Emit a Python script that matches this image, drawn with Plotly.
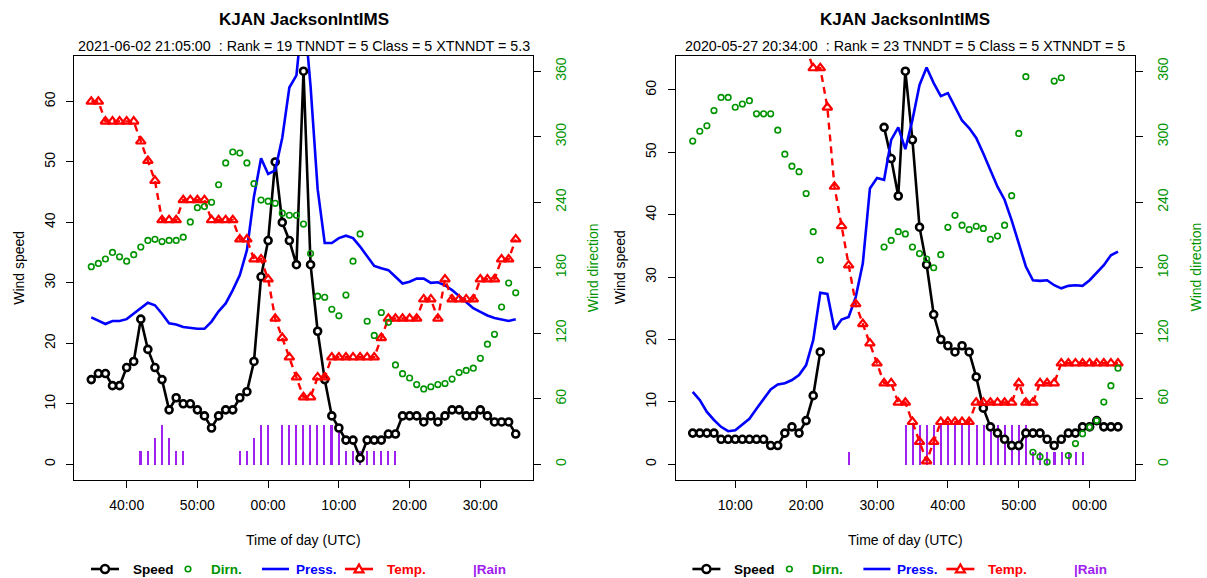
import pandas as pd
import plotly.graph_objects as go

W, H = 1207, 578
FONT = "Liberation Sans, Arial, Helvetica, sans-serif"
GREEN = "#009400"
PURPLE = "#A020F0"

# ---------------- data: left panel ----------------
L_title = "KJAN JacksonIntIMS"
L_sub = "2021-06-02 21:05:00\u00a0 : Rank = 19 TNNDT = 5 Class = 5 XTNNDT = 5.3"
L_start = "2021-06-02 20:35:00"
L_speed = [14, 15, 15, 13, 13, 16, 17, 24, 19, 16, 14, 9, 11, 10, 10, 9, 8, 6, 8, 9,
           9, 11, 12, 17, 31, 37, 50, 40, 37, 33, 65, 33, 22, 14, 8, 6, 4, 4, 1, 4,
           4, 4, 5, 5, 8, 8, 8, 7, 8, 7, 8, 9, 9, 8, 8, 9, 8, 7, 7, 7, 5]
L_dirn = [181, 184, 188, 194, 190, 186, 192, 199, 205, 206, 204, 205, 205, 208, 222, 235, 236, 240, 256, 276,
          286, 285, 276, 257, 242, 241, 239, 230, 228, 228, 220, 193, 154, 153, 142, 136, 155, 186, 211, 131,
          118, 139, 130, 91, 83, 79, 73, 69, 71, 73, 74, 78, 84, 86, 88, 97, 110, 119, 144, 166, 157]
L_press = [24.3, 23.7, 23.2, 23.7, 23.7, 24.0, 24.9, 25.9, 26.7, 26.3, 24.9, 23.3, 23.1, 22.7, 22.5, 22.4, 22.4, 23.6, 25.3, 26.6,
           28.8, 31.3, 35.4, 44.3, 50.6, 48.0, 48.6, 54.0, 62.3, 64.3, 76.0, 62.5, 45.5, 36.6, 36.6, 37.4, 37.8, 37.4, 36.0, 34.4,
           32.8, 32.4, 32.1, 31.0, 29.9, 30.2, 30.7, 30.7, 30.0, 30.1, 29.6, 28.8, 27.8, 26.7, 25.8, 25.2, 24.6, 24.2, 24.0, 23.7, 24.0]
L_temp = [60.0, 60.0, 56.7, 56.7, 56.7, 56.7, 56.7, 53.4, 50.2, 46.9, 40.4, 40.4, 40.4, 43.7, 43.7, 43.7, 43.7, 40.4, 40.4, 40.4,
          40.4, 37.2, 37.2, 33.9, 33.9, 30.6, 24.1, 20.9, 17.7, 14.4, 11.1, 11.1, 14.4, 14.4, 17.7, 17.7, 17.7, 17.7, 17.7, 17.7,
          17.7, 20.9, 24.1, 24.1, 24.1, 24.1, 24.1, 27.3, 27.3, 24.1, 30.6, 27.3, 27.3, 27.3, 27.3, 30.6, 30.6, 30.6, 33.9, 33.9, 37.2]
L_rain = [0, 0, 0, 0, 0, 0, 0, 2.2, 2.2, 4.4, 6.6, 4.4, 2.2, 2.2, 0, 0, 0, 0, 0, 0,
          0, 2.2, 2.2, 4.4, 6.6, 6.6, 0, 6.6, 6.6, 6.6, 6.6, 6.6, 6.6, 6.6, 6.6, 6.6, 2.2, 2.2, 2.2, 2.2,
          2.2, 2.2, 2.2, 2.2, 0, 0, 0, 0, 0, 0, 0, 0, 0, 0, 0, 0, 0, 0, 0, 0, 0]
L_ymax = 65

# ---------------- data: right panel ----------------
R_title = "KJAN JacksonIntIMS"
R_sub = "2020-05-27 20:34:00\u00a0 : Rank = 23 TNNDT = 5 Class = 5 XTNNDT = 5"
R_start = "2020-05-27 20:04:00"
R_speed = [5, 5, 5, 5, 4, 4, 4, 4, 4, 4, 4, 3, 3, 5, 6, 5, 7, 11, 18,
           None, None, None, None, None, None, None, None,
           54, 49, 43, 63, 52, 38, 32, 24, 20, 19, 18, 19, 18, 14, 9, 6, 5, 4, 3, 3,
           5, 5, 5, 4, 3, 4, 5, 5, 6, 6, 7, 6, 6, 6]
R_dirn = [296, 305, 310, 324, 336, 336, 327, 330, 333, 321, 321, 321, 306, 284, 273, 268, 248, 213, 187,
          None, None, None, None, None, None, None, None,
          199, 205, 213, 211, 199, 193, 188, 180, 192, 217, 228, 219, 215, 218, 216, 206, 209, 219, 246, 303,
          355, 11, 7, 2, 351, 354, 8, 19, 28, 34, 40, 57, 72, 88]
R_press = [11.6, 10.3, 8.4, 7.1, 6.0, 5.3, 5.45, 6.4, 7.3, 8.9, 10.5, 12.0, 12.8, 13.0, 13.5, 14.3, 15.9, 19.9, 27.5, 27.3,
           21.6, 23.2, 23.6, 26.8, 32.2, 44.2, 45.9, 45.6, 52.0, 54.0, 50.5, 55.2, 60.8, 63.6, 61.1, 59.0, 59.5, 57.3, 55.1, 53.9,
           52.3, 49.8, 47.2, 44.5, 42.4, 39.1, 35.4, 31.7, 29.5, 29.4, 29.5, 28.7, 28.2, 28.6, 28.7, 28.6, 29.5, 30.7, 31.9, 33.5, 34.1]
R_temp = [None] * 16 + [66.8, 63.5, 63.5, 57.2, 44.5, 38.2, 31.9, 25.7, 22.5, 19.4, 16.2, 13.0, 13.0, 9.9, 9.9,
                        6.8, 3.6, 0.5, 3.6, 6.8, 6.8, 6.8, 6.8, 6.8, 9.9, 9.9, 9.9, 9.9, 9.9, 9.9, 13.0, 9.9, 9.9,
                        13.0, 13.0, 13.0, 16.2, 16.2, 16.2, 16.2, 16.2, 16.2, 16.2, 16.2, 16.2]
R_rain = [0] * 22 + [2.1] + [0] * 7 + [6.3] * 18 + [2.1] * 8 + [0] * 5
R_ymax = 63

DIR_TICKS = [0, 60, 120, 180, 240, 300, 360]

fig = go.Figure()


def px_x(x):
    return x / W


def px_y(y):
    return 1 - y / H


def add_panel(n, start, speed, dirn, press, temp, rain, ymax, left_px, right_px, title, sub):
    times = pd.date_range(start, periods=len(speed), freq="min")
    xa = "x" if n == 0 else "x2"
    ya = "y" if n == 0 else "y3"
    yb = "y2" if n == 0 else "y4"
    fig.add_trace(go.Scatter(x=times, y=speed, mode="lines+markers", xaxis=xa, yaxis=ya,
                             line=dict(color="black", width=2.6),
                             marker=dict(symbol="circle", size=7, color="white",
                                         line=dict(color="black", width=2.6)),
                             connectgaps=False, showlegend=False, name="Speed"))
    fig.add_trace(go.Scatter(x=times, y=press, mode="lines", xaxis=xa, yaxis=ya,
                             line=dict(color="#0000FF", width=2.6), showlegend=False, name="Press."))
    fig.add_trace(go.Scatter(x=times, y=temp, mode="lines+markers", xaxis=xa, yaxis=ya,
                             line=dict(color="#FF0000", width=2.4, dash="7px,5px"),
                             marker=dict(symbol="triangle-up-open", size=8.5, color="#FF0000",
                                         line=dict(color="#FF0000", width=2.2)),
                             connectgaps=False, showlegend=False, name="Temp."))
    fig.add_trace(go.Bar(x=times, y=[r if r else None for r in rain], xaxis=xa, yaxis=ya,
                         width=17000, marker=dict(color=PURPLE, line=dict(width=0)),
                         showlegend=False, name="Rain"))
    fig.add_trace(go.Scatter(x=times, y=dirn, mode="markers", xaxis=xa, yaxis=yb,
                             marker=dict(symbol="circle-open", size=5.6, color=GREEN,
                                         line=dict(color=GREEN, width=1.6)),
                             showlegend=False, name="Dirn."))

    t0 = times[0]
    rng = [t0 - pd.Timedelta(seconds=144), times[-1] + pd.Timedelta(seconds=144)]
    first_tick = t0.ceil("10min")
    tv = list(pd.date_range(first_tick, times[-1], freq="10min"))
    xdom = [px_x(left_px), px_x(right_px)]
    ydom = [px_y(480), px_y(55.5)]
    common = dict(showline=True, linecolor="black", linewidth=1.3, mirror=True, ticks="outside",
                  ticklen=7, tickwidth=1, tickcolor="black", showgrid=False, zeroline=False)
    xkey = "xaxis" if n == 0 else "xaxis2"
    ykey = "yaxis" if n == 0 else "yaxis3"
    ykey2 = "yaxis2" if n == 0 else "yaxis4"
    fig.update_layout(**{
        xkey: dict(domain=xdom, anchor=ya, type="date", range=rng, tickvals=tv, tickformat="%M:%S",
                   tickfont=dict(size=14, color="black"), ticklabelstandoff=5, **common),
        ykey: dict(domain=ydom, anchor=xa, range=[-0.04 * ymax, 1.04 * ymax],
                   tickvals=list(range(0, ymax + 1, 10)), tickangle=-90,
                   tickfont=dict(size=14, color="black"), ticklabelstandoff=6, **common),
        ykey2: dict(overlaying=ya, anchor=xa, side="right", range=[-14.4, 374.4],
                    tickvals=DIR_TICKS, tickangle=-90, tickfont=dict(size=14, color=GREEN),
                    ticklabelstandoff=8, showline=True, linecolor="black", linewidth=1.3,
                    ticks="outside", ticklen=7, tickwidth=1, tickcolor="black",
                    showgrid=False, zeroline=False),
    })

    cx = (left_px + right_px) / 2
    ann = [
        dict(text="<b>" + title + "</b>", x=px_x(cx), y=px_y(20), font=dict(size=17)),
        dict(text=sub, x=px_x(cx), y=px_y(45.5), font=dict(size=14.3)),
        dict(text="Time of day (UTC)", x=px_x(cx), y=px_y(540), font=dict(size=14)),
        dict(text="Wind speed", x=px_x(left_px - 56), y=px_y(267.5), textangle=-90, font=dict(size=14)),
        dict(text="Wind direction", x=px_x(right_px + 60), y=px_y(267.5), textangle=-90,
             font=dict(size=14, color=GREEN)),
    ]
    for a in ann:
        a.update(xref="paper", yref="paper", showarrow=False, xanchor="center", yanchor="middle")
        a["font"].setdefault("color", "black")
        a["font"]["family"] = FONT
        fig.add_annotation(**a)

    # legend (drawn manually, R style)
    o = left_px - 74.3
    ly = 569
    shapes = []
    shapes.append(dict(type="line", x0=px_x(o + 91), x1=px_x(o + 119), y0=px_y(ly), y1=px_y(ly),
                       line=dict(color="black", width=2.6)))
    shapes.append(dict(type="circle", x0=px_x(o + 105 - 4), x1=px_x(o + 105 + 4), y0=px_y(ly + 4),
                       y1=px_y(ly - 4), line=dict(color="black", width=2.5), fillcolor="white"))
    shapes.append(dict(type="circle", x0=px_x(o + 188 - 2.8), x1=px_x(o + 188 + 2.8), y0=px_y(ly + 2.8),
                       y1=px_y(ly - 2.8), line=dict(color=GREEN, width=1.6), fillcolor="rgba(0,0,0,0)"))
    shapes.append(dict(type="line", x0=px_x(o + 262), x1=px_x(o + 289), y0=px_y(ly), y1=px_y(ly),
                       line=dict(color="#0000FF", width=2.6)))
    shapes.append(dict(type="line", x0=px_x(o + 345), x1=px_x(o + 373), y0=px_y(ly), y1=px_y(ly),
                       line=dict(color="#FF0000", width=2.6)))
    tcx, tcy, s = o + 359, ly, 4.5
    path = "M {:.5f},{:.5f} L {:.5f},{:.5f} L {:.5f},{:.5f} Z".format(
        px_x(tcx - s), px_y(tcy + s * 0.75), px_x(tcx + s), px_y(tcy + s * 0.75), px_x(tcx), px_y(tcy - s))
    shapes.append(dict(type="path", path=path, line=dict(color="#FF0000", width=2.2), fillcolor="white"))
    for sh in shapes:
        sh.update(xref="paper", yref="paper")
        fig.add_shape(**sh)
    items = [("Speed", o + 131, "black"), ("Dirn.", o + 209, GREEN), ("Press.", o + 294, "#0000FF"),
             ("Temp.", o + 385, "#FF0000"), ("|Rain", o + 471, PURPLE)]
    for txt, xx, col in items:
        fig.add_annotation(text="<b>" + txt + "</b>", x=px_x(xx), y=px_y(ly), xref="paper", yref="paper",
                           xanchor="left", yanchor="middle", showarrow=False,
                           font=dict(family=FONT, size=13.5, color=col))


add_panel(0, L_start, L_speed, L_dirn, L_press, L_temp, L_rain, L_ymax, 74.3, 532.7, L_title, L_sub)
add_panel(1, R_start, R_speed, R_dirn, R_press, R_temp, R_rain, R_ymax, 675.7, 1135.0, R_title, R_sub)

fig.update_layout(width=W, height=H, margin=dict(l=0, r=0, t=0, b=0), autosize=False,
                  paper_bgcolor="white", plot_bgcolor="white", showlegend=False,
                  font=dict(family=FONT, size=13, color="black"), bargap=0)

fig.write_html("out.html")
